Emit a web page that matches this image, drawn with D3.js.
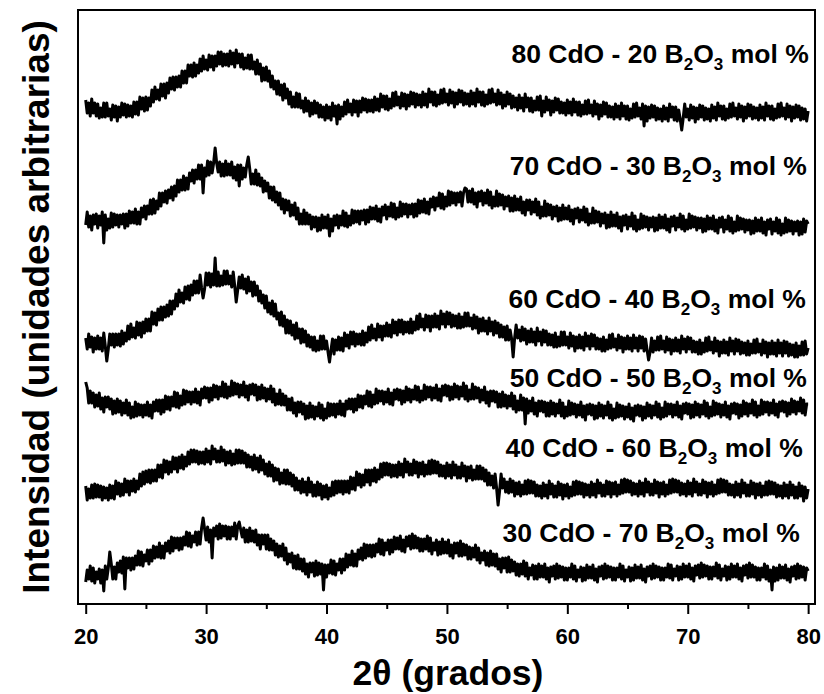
<!DOCTYPE html>
<html><head><meta charset="utf-8">
<script src="https://cdn.jsdelivr.net/npm/d3@7"></script>
<style>body{margin:0;background:#fff}svg{display:block}</style>
</head><body>
<svg id="chart" width="824" height="694"></svg>
<script>
// 2θ sampling (degrees), 0.125° steps from 20 to 80
const twoTheta = d3.range(481).map(i => 20 + i * 0.125);

// Intensity traces (arbitrary units)
const s80 = [
24,11,21,8,25,11,21,8, 20,6,16,7,21,7,21,8, 15,4,19,7,18,3,17,7, 21,9,20,7,19,8,18,7, 22,10,22,9,27,15,26,13,
27,14,26,18,34,22,37,25, 34,24,40,28,40,26,41,31, 46,35,47,34,47,37,48,37, 53,41,53,41,59,48,59,47, 61,48,59,51,65,53,68,55,
64,54,69,57,68,54,68,58, 72,60,72,58,70,59,70,58, 73,60,71,57,74,61,70,57, 70,55,66,56,69,55,69,55, 62,50,64,50,60,43,56,44,
57,43,53,37,48,35,43,30, 43,29,39,24,40,26,35,20, 32,17,27,17,31,17,30,16, 23,12,26,13,23,8,21,10, 23,11,21,7,19,7,17,4,
19,6,17,4,21,8,18,0, 19,5,17,8,22,10,24,12, 20,9,24,12,23,8,23,12, 26,14,25,12,24,13,24,12, 27,14,25,13,30,17,28,15,
28,14,25,16,31,18,32,19, 27,16,31,18,30,15,29,18, 32,20,31,17,30,19,29,17, 32,19,30,17,35,22,32,19, 32,18,29,20,34,21,35,22,
30,19,34,21,32,17,31,20, 34,22,33,19,31,20,30,18, 33,20,31,18,35,22,32,19, 32,18,29,20,34,21,35,22, 30,19,34,20,31,16,29,18,
32,20,30,16,28,17,26,14, 29,16,26,13,30,17,26,13, 26,12,23,14,27,14,28,8, 23,12,27,14,24,9,23,12, 26,14,25,11,22,11,21,9,
24,11,22,9,25,12,22,9, 22,8,19,10,23,10,24,11, 19,8,23,10,20,5,19,8, 22,10,21,7,18,7,17,5, 20,7,18,5,21,8,18,5,
18,4,15,6,20,7,21,8, 16,5,20,-2,18,3,17,6, 19,7,18,4,16,5,15,3, 18,5,16,3,20,7,17,4, 17,3,14,5,-6,6,20,7,
15,4,19,6,17,2,16,5, 19,7,18,4,16,5,15,3, 19,6,17,4,21,8,18,5, 18,4,15,6,20,7,21,8, 16,5,20,7,18,3,17,6,
20,8,19,5,17,6,16,4, 19,6,17,4,21,8,18,5, 18,4,15,6,20,7,21,8, 16,5,20,7,18,3,17,6, 19,7,18,4,16,5,15,3, 13];
const s70 = [
13,26,11,22,8,23,14,24, 10,22,13,26,-5,23,8,19, 10,25,11,24,13,23,11,23, 14,24,10,24,12,27,15,26, 15,29,14,26,14,30,21,32,
19,32,24,38,24,39,25,37, 29,45,32,45,36,47,35,48, 40,51,38,52,42,58,46,58, 48,62,48,60,49,65,57,68, 55,68,59,73,59,73,45,70,
62,77,63,76,65,75,90,75, 66,76,62,74,62,77,63,74, 63,76,60,71,58,73,52,73, 59,70,61,73,81,69,54,64, 54,68,53,64,52,60,46,57,
47,55,40,51,38,51,36,46, 33,45,29,39,25,38,28,37, 22,33,23,35,19,30,14,24, 14,28,14,25,14,23,9,21, 11,21,7,20,8,23,10,21,
10,23,2,19,7,22,13,23, 10,22,13,27,12,25,11,22, 13,28,15,27,16,27,14,27, 18,28,14,28,16,31,19,30, 19,32,17,29,16,31,23,33,
19,31,22,35,21,34,19,30, 21,36,22,34,24,34,21,33, 24,34,21,34,22,38,25,37, 26,39,25,36,24,39,31,41, 28,40,32,45,30,44,29,41,
32,47,33,46,35,45,33,45, 36,46,32,45,50,49,36,47, 36,49,34,45,31,46,37,47, 33,45,35,48,33,46,30,41, 32,47,32,44,33,43,29,41,
32,42,27,40,27,42,28,39, 28,41,25,36,23,38,28,38, 24,36,26,39,23,36,20,31, 22,37,22,34,23,33,19,31, 22,32,17,30,18,33,19,30,
19,32,17,28,14,29,20,30, 16,28,18,31,16,29,13,24, 15,30,15,27,16,26,12,24, 15,25,10,23,11,26,12,23, 12,25,10,21,7,22,13,23,
9,21,12,25,9,22,7,18, 9,24,10,22,11,21,8,20, 11,21,7,20,8,23,10,21, 10,23,8,19,6,21,12,22, 8,20,11,24,9,22,7,18,
9,24,10,22,11,21,8,20, 10,20,6,19,7,22,9,20, 9,22,7,18,5,20,11,21, 6,18,9,22,7,20,5,16, 7,22,8,20,9,19,6,18,
8,18,4,17,5,20,7,18, 7,20,5,16,3,18,9,19, 4,16,7,20,5,18,3,14, 5,20,6,18,7,17,4,16, 7,17,3,16,4,19,6,17, 14];
const s60 = [
22,11,26,13,23,8,22,11, 24,11,22,9,27,14,-1,11, 26,15,26,13,26,15,26,14, 29,16,27,19,34,21,36,23, 32,22,38,25,37,23,38,27,
41,29,41,29,48,36,47,35, 51,40,53,40,53,43,55,44, 59,46,59,51,66,54,70,58, 67,57,73,61,74,60,75,65, 79,67,79,67,85,72,62,71,
87,75,87,73,86,75,102,74, 88,74,84,75,89,76,89,76, 84,73,88,74,58,70,83,72, 85,71,81,67,83,69,78,64, 78,65,74,59,69,57,65,52,
64,48,57,46,59,44,56,41, 47,35,48,34,44,27,40,27, 39,25,35,21,37,22,31,17, 31,18,29,14,25,13,23,10, 23,9,19,10,24,11,24,11,
19,8,-2,10,21,6,20,10, 23,10,22,9,27,14,25,12, 28,16,28,14,26,16,26,15, 29,15,27,18,33,20,35,22, 31,20,36,23,34,20,34,24,
37,24,35,23,40,27,38,25, 40,28,40,26,38,28,38,27, 41,27,38,30,44,31,46,33, 41,30,45,33,44,29,44,33, 46,33,44,31,49,36,46,33,
48,36,47,33,45,34,44,32, 46,32,43,33,47,34,47,34, 42,31,45,32,43,27,41,29, 42,29,39,26,42,29,38,25, 39,27,37,23,35,23,33,20,
34,20,30,21,3,22,35,22, 30,19,33,20,31,16,29,18, 31,18,28,15,32,19,28,15, 30,18,29,15,26,15,25,13, 27,13,23,14,28,15,28,15,
23,12,27,14,24,9,23,12, 25,12,23,10,27,14,24,11, 26,14,25,11,22,11,21,9, 23,9,20,11,25,12,26,13, 21,10,25,12,23,8,22,11,
24,11,22,9,25,12,22,9, 24,12,23,9,21,10,0,8, 22,8,19,10,23,10,24,11, 19,8,23,10,21,6,20,9, 22,9,20,7,24,11,21,8,
23,11,22,8,19,8,18,6, 20,6,17,8,22,9,23,10, 18,7,22,9,19,4,18,7, 20,7,18,5,22,9,19,6, 21,9,20,6,18,7,17,5,
19,5,16,7,20,7,21,8, 16,5,20,7,18,3,17,6, 19,6,17,4,20,7,17,4, 19,7,18,4,16,5,15,3, 17,3,14,5,18,5,19,6, 12];
const s50 = [
40,34,19,31,19,29,15,27, 16,29,13,24,10,25,15,25, 13,23,8,21,9,23,10,21, 7,19,9,22,7,19,4,15, 5,20,6,18,7,17,5,17,
7,20,6,17,4,20,11,22, 11,22,8,22,10,26,13,25, 12,25,16,30,15,29,14,26, 17,32,18,31,20,30,18,30, 20,33,19,30,17,33,24,35,
24,34,20,34,22,37,25,36, 23,35,26,40,25,38,24,35, 26,41,27,39,28,38,25,37, 27,40,25,36,22,37,28,38, 27,37,22,35,23,37,24,34,
21,33,23,36,20,33,17,28, 18,32,17,28,17,26,12,23, 12,24,9,19,6,20,10,20, 8,18,3,16,4,19,5,16, 3,15,6,19,4,17,2,13,
4,19,6,18,7,18,5,18, 8,21,7,18,6,21,13,23, 13,23,10,23,12,27,15,26, 14,26,18,31,16,30,15,27, 18,33,19,31,21,31,18,30,
20,33,18,29,17,32,23,33, 22,32,18,31,20,35,22,33, 20,32,23,36,22,35,20,31, 22,37,23,35,25,35,22,34, 24,37,22,33,21,36,27,37,
26,36,22,35,23,38,25,36, 23,35,26,39,23,36,21,32, 23,38,23,35,24,34,20,32, 22,35,19,30,16,31,21,31, 20,30,15,28,15,30,16,27,
14,26,16,29,13,26,10,21, 12,27,12,24,-2,23,9,21, 11,24,8,19,6,21,11,21, 10,20,6,19,6,21,8,19, 6,18,9,22,6,19,4,15,
6,21,7,19,8,18,5,17, 7,20,5,16,2,17,8,18, 7,17,3,16,4,19,6,17, 4,16,7,20,4,17,2,13, 4,19,5,17,6,16,3,15,
5,18,3,14,1,16,7,17, 6,16,2,15,4,19,6,17, 4,16,7,20,5,18,3,14, 5,20,6,18,8,18,5,17, 7,20,5,16,3,18,9,19,
8,18,4,17,5,20,7,18, 5,17,8,21,6,19,4,15, 6,21,7,19,8,18,5,17, 7,20,5,16,3,18,9,19, 8,18,4,17,6,21,8,19,
6,18,9,22,7,20,5,16, 7,22,8,20,10,20,7,19, 9,22,7,18,5,20,11,21, 10,20,6,19,8,23,10,21, 8,20,11,24,9,22,7,18, 18];
const s40 = [
16,2,13,4,17,4,18,5, 17,5,16,2,15,4,14,2, 17,4,16,3,21,8,19,6, 18,7,23,10,21,7,21,11, 23,10,21,13,28,16,30,18,
31,20,32,19,32,21,32,21, 37,25,37,24,42,30,41,28, 40,30,45,33,44,30,45,34, 47,33,45,36,50,38,52,40, 52,40,51,38,50,39,50,38,
53,40,51,38,56,43,53,40, 51,40,55,41,52,37,50,39, 51,37,48,38,52,39,52,39, 51,39,49,35,47,35,45,32, 47,33,44,30,46,32,42,28,
38,26,40,26,37,21,34,22, 33,18,29,19,32,18,32,18, 29,16,27,12,24,12,21,9, 23,10,20,7,24,10,20,6, 17,6,20,7,18,3,16,5,
17,3,14,6,20,7,21,9, 21,10,21,8,21,10,21,9, 25,13,24,12,30,17,28,15, 27,17,32,20,32,17,32,21, 34,20,32,23,38,25,39,27,
39,27,38,25,37,26,37,25, 40,27,38,25,43,30,40,27, 38,27,42,29,40,25,39,28, 40,26,37,28,41,28,42,29, 41,29,40,26,37,26,36,24,
39,26,37,24,40,27,37,24, 35,24,39,26,36,21,35,24, 36,22,32,23,36,23,36,23, 34,21,32,17,29,17,26,14, 28,14,-3,11,28,14,23,10,
20,9,23,10,21,6,19,8, 20,6,17,8,21,8,22,9, 21,9,20,6,17,6,16,4, 19,6,17,4,21,8,18,5, 16,5,20,7,18,3,17,6,
18,4,15,6,20,7,21,8, 20,8,19,5,18,7,17,5, 20,7,18,5,22,9,19,6, 17,6,21,8,20,5,19,8, 20,6,17,8,22,9,23,10,
22,10,21,7,19,8,18,6, 21,8,19,6,23,10,20,7, 18,7,22,9,20,5,19,8, 20,6,17,8,22,9,23,10, 22,10,21,7,19,8,18,6,
21,8,19,6,23,10,20,7, 18,7,22,9,20,5,19,8, 20,6,17,8,22,9,23,10, 22,10,21,7,18,7,17,5, 20,7,18,5,22,9,19,6,
17,6,21,8,19,4,18,7, 19,5,16,7,20,7,21,8, 20,8,19,5,17,6,16,4, 19,6,17,4,20,7,17,4, 15,4,19,6,16,1,15,4, 13];
const s30 = [
3,15,6,19,4,17,2,13, 6,16,2,15,-6,19,6,17, 33,21,6,18,6,22,13,24, 12,28,-4,27,17,27,15,27, 16,29,20,34,20,33,19,30,
24,35,21,35,24,39,27,38, 28,42,27,39,27,42,34,44, 32,48,34,47,37,47,35,47, 36,48,40,53,39,52,38,49, 43,53,40,53,41,57,67,56,
45,58,43,55,27,57,49,59, 46,61,47,59,49,59,46,58, 46,58,49,62,46,59,63,55, 48,57,43,55,43,57,44,54, 43,55,40,50,36,50,41,50,
36,50,35,46,35,44,30,41, 28,39,29,41,25,37,21,31, 23,32,17,29,16,30,16,26, 14,26,11,21,8,22,13,22, 9,24,10,22,11,21,-5,20,
8,20,12,25,11,24,10,21, 15,26,12,26,15,31,18,30, 20,34,19,31,19,35,26,37, 25,41,27,40,29,40,28,40, 29,41,33,46,31,45,30,42,
35,45,31,45,33,48,36,47, 36,49,34,45,33,48,39,49, 36,51,37,49,37,47,34,46, 34,46,36,49,34,47,31,42, 35,45,30,43,31,46,32,43,
32,45,29,40,27,42,32,42, 29,44,29,41,30,40,26,38, 26,37,28,40,25,37,22,32, 25,34,20,32,19,34,20,31, 19,31,16,26,13,27,17,27,
13,28,13,25,14,23,10,21, 9,21,11,24,9,22,6,17, 10,20,6,19,6,21,8,19, 8,21,6,17,3,18,9,19, 6,21,7,19,8,18,5,17,
5,17,8,21,6,19,4,15, 8,18,4,17,5,20,7,18, 7,20,5,16,3,18,9,19, 6,21,7,19,8,18,5,17, 5,17,8,21,6,19,4,15,
8,18,4,17,5,20,7,18, 7,20,5,16,3,18,9,19, 6,21,7,19,8,18,5,17, 5,17,8,21,7,20,5,16, 9,19,5,18,6,21,8,19,
8,21,6,17,4,19,10,20, 7,22,8,20,9,19,6,18, 6,18,9,22,7,20,5,16, 9,19,5,18,6,21,8,19, 8,21,6,17,4,19,10,20,
7,22,8,20,8,18,5,17, 5,17,8,21,6,19,4,15, -5,18,4,17,5,20,7,18, 7,20,5,16,3,18,9,19, 6,21,7,19,8,18,5,17, 14];

const series = [s80, s70, s60, s50, s40, s30];
// vertical stacking offsets (arbitrary units)
const offsets = [480, 366, 244, 182, 102, 19];
// composition labels
const cdo = [80, 70, 60, 50, 40, 30];
const b2o3 = [20, 30, 40, 50, 60, 70];
// label anchor in data coordinates (right end 2θ, baseline intensity)
const labelTheta = [80.05, 79.9, 79.8, 79.9, 79.55, 79.3];
const labelInt = [541, 429, 296, 217, 147, 62];

const majorTicks = [20, 30, 40, 50, 60, 70, 80];
const minorTicks = [25, 35, 45, 55, 65, 75];

series.forEach((s, i) => { if (s.length !== twoTheta.length) console.error("series", i, "length", s.length); });

const FONT = "'Liberation Sans', Arial, Helvetica, sans-serif";
const svg = d3.select("#chart");
const L = 78, R = 815, T = 10, B = 604;

const x = d3.scaleLinear().domain([19.36, 80.57]).range([L, R]);
const y = d3.scaleLinear().domain([0, 594]).range([B, T]);

// traces
const line = d3.line().x((d, i) => x(twoTheta[i])).y(d => y(d));
series.forEach((s, k) => {
  svg.append("path")
    .datum(s.map(v => v + offsets[k]))
    .attr("d", line)
    .attr("fill", "none")
    .attr("stroke", "#000")
    .attr("stroke-width", 3)
    .attr("stroke-linejoin", "round");
});

// frame
svg.append("rect").attr("x", L).attr("y", T).attr("width", R - L).attr("height", B - T)
  .attr("fill", "none").attr("stroke", "#000").attr("stroke-width", 2);

// bottom axis
const gMajor = svg.append("g").attr("transform", `translate(0,${B})`)
  .call(d3.axisBottom(x).tickValues(majorTicks).tickSize(10).tickPadding(14).tickSizeOuter(0).tickFormat(d3.format("d")));
const gMinor = svg.append("g").attr("transform", `translate(0,${B})`)
  .call(d3.axisBottom(x).tickValues(minorTicks).tickSize(5).tickSizeOuter(0).tickFormat(""));
[gMajor, gMinor].forEach(g => {
  g.select(".domain").remove();
  g.selectAll(".tick line").attr("stroke", "#000").attr("stroke-width", 2);
});
gMajor.selectAll(".tick text").attr("fill", "#000")
  .style("font-family", FONT).style("font-weight", "bold").style("font-size", "22px");

// axis titles
svg.append("text").attr("x", 448).attr("y", 685).attr("text-anchor", "middle")
  .style("font-family", FONT).style("font-weight", "bold").style("font-size", "35.5px")
  .text("2θ (grados)");
svg.append("text").attr("transform", "translate(49,307) rotate(-90)").attr("text-anchor", "middle")
  .style("font-family", FONT).style("font-weight", "bold").style("font-size", "37px")
  .text("Intensidad (unidades arbitrarias)");

// series labels
cdo.forEach((c, k) => {
  const t = svg.append("text")
    .attr("x", x(labelTheta[k])).attr("y", y(labelInt[k]))
    .attr("text-anchor", "end")
    .style("font-family", FONT).style("font-weight", "bold").style("font-size", "26.5px");
  t.append("tspan").text(`${c} CdO - ${b2o3[k]} B`);
  t.append("tspan").attr("dy", 7).style("font-size", "17px").text("2");
  t.append("tspan").attr("dy", -7).text("O");
  t.append("tspan").attr("dy", 7).style("font-size", "17px").text("3");
  t.append("tspan").attr("dy", -7).text(" mol %");
});
</script>
</body></html>
